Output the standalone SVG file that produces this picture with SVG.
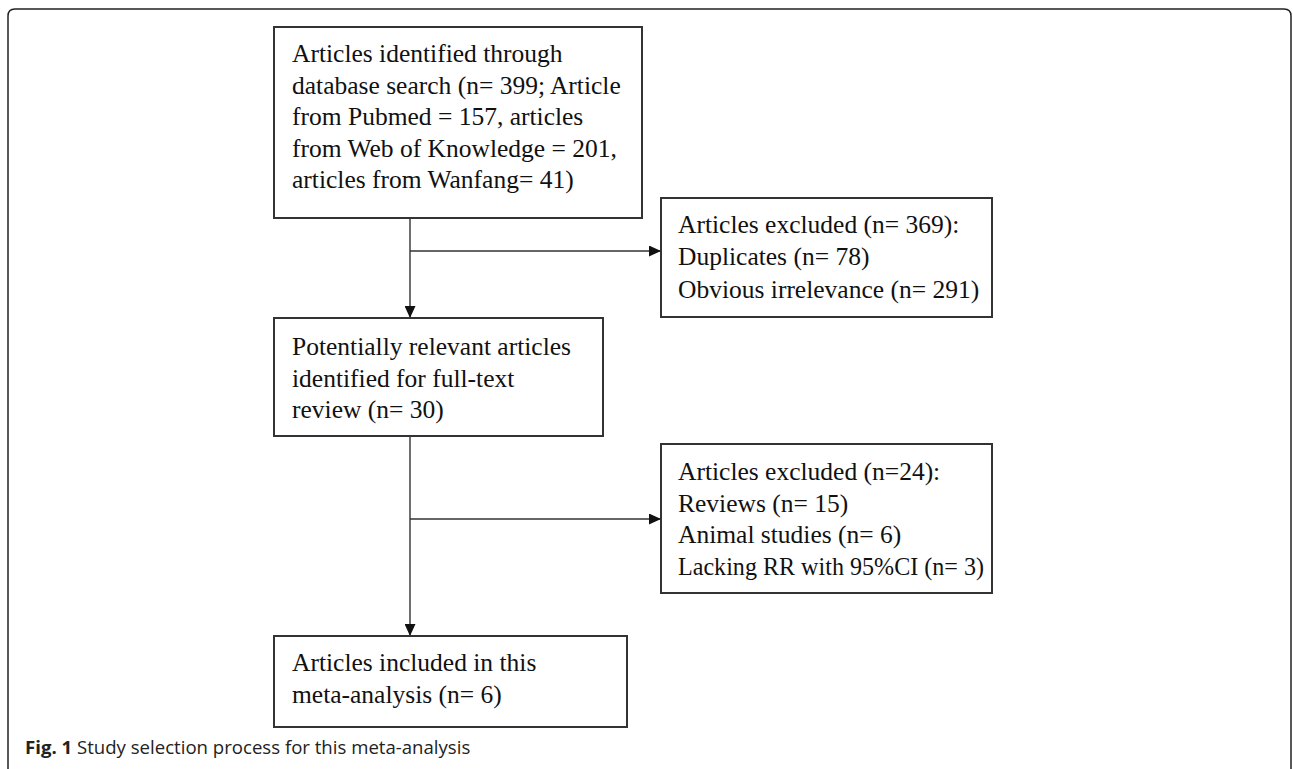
<svg xmlns="http://www.w3.org/2000/svg" width="1293" height="769" viewBox="0 0 1293 769">
<style>
.box{fill:#fff;stroke:#333;stroke-width:2}
.t{font-family:"Liberation Serif","Times New Roman",serif;font-size:25.5px;fill:#111}
.c{stroke:#333;stroke-width:1.4;fill:none}
.cap{font-family:"Open Sans","Noto Sans",sans-serif;font-size:18.6px;fill:#222}
</style>
<defs>
<marker id="ah" viewBox="0 0 12 11" refX="12" refY="5.5" markerWidth="12" markerHeight="11" markerUnits="userSpaceOnUse" orient="auto">
<path d="M0,0 L12,5.5 L0,11 Z" fill="#111"/>
</marker>
</defs>
<rect width="1293" height="769" fill="#fff"/>
<path d="M8,769 V16 Q8,9 15,9 H1284 Q1291,9 1291,16 V769" fill="none" stroke="#222" stroke-width="1.5"/>
<g id="connectors">
<line class="c" x1="410" y1="218" x2="410" y2="318" marker-end="url(#ah)"/>
<line class="c" x1="410" y1="251" x2="661" y2="251" marker-end="url(#ah)"/>
<line class="c" x1="410" y1="436" x2="410" y2="636" marker-end="url(#ah)"/>
<line class="c" x1="410" y1="519" x2="661" y2="519" marker-end="url(#ah)"/>
</g>
<g id="n1">
<rect class="box" x="274" y="27" width="368" height="191"/>
<text class="t" x="292" y="62">Articles identified through</text>
<text class="t" x="292" y="94">database search (n= 399; Article</text>
<text class="t" x="292" y="125">from Pubmed = 157, articles</text>
<text class="t" x="292" y="157">from Web of Knowledge = 201,</text>
<text class="t" x="292" y="188">articles from Wanfang= 41)</text>
</g>
<g id="n2">
<rect class="box" x="661" y="198" width="331" height="119"/>
<text class="t" x="678" y="233">Articles excluded (n= 369):</text>
<text class="t" x="678" y="265">Duplicates (n= 78)</text>
<text class="t" x="678" y="298">Obvious irrelevance (n= 291)</text>
</g>
<g id="n3">
<rect class="box" x="274" y="318" width="329" height="118"/>
<text class="t" x="292" y="355">Potentially relevant articles</text>
<text class="t" x="292" y="387">identified for full-text</text>
<text class="t" x="292" y="418">review (n= 30)</text>
</g>
<g id="n4">
<rect class="box" x="661" y="444" width="331" height="149"/>
<text class="t" x="678" y="480">Articles excluded (n=24):</text>
<text class="t" x="678" y="512">Reviews (n= 15)</text>
<text class="t" x="678" y="543">Animal studies (n= 6)</text>
<text class="t" x="678" y="575" textLength="306" lengthAdjust="spacingAndGlyphs">Lacking RR with 95%CI (n= 3)</text>
</g>
<g id="n5">
<rect class="box" x="274" y="636" width="353" height="91"/>
<text class="t" x="292" y="671">Articles included in this</text>
<text class="t" x="292" y="703">meta-analysis (n= 6)</text>
</g>
<text class="cap" x="25" y="754"><tspan font-weight="bold">Fig. 1</tspan> Study selection process for this meta-analysis</text>
</svg>
